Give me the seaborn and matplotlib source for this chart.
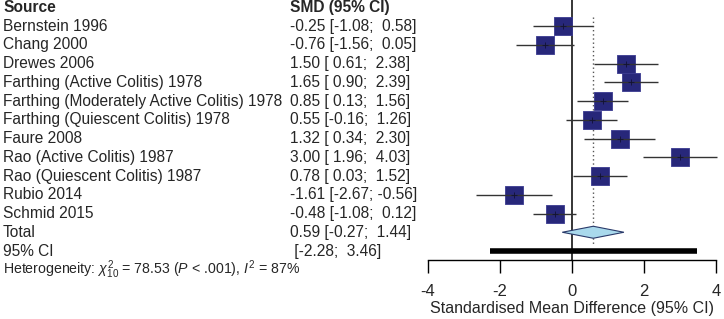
import numpy as np
import pandas as pd
import seaborn as sns
import matplotlib.pyplot as plt
import matplotlib.transforms as mtransforms

sources = ["Bernstein 1996", "Chang 2000", "Drewes 2006", "Farthing (Active Colitis) 1978",
           "Farthing (Moderately Active Colitis) 1978", "Farthing (Quiescent Colitis) 1978",
           "Faure 2008", "Rao (Active Colitis) 1987", "Rao (Quiescent Colitis) 1987",
           "Rubio 2014", "Schmid 2015"]
smd = [-0.25, -0.76, 1.50, 1.65, 0.85, 0.55, 1.32, 3.00, 0.78, -1.61, -0.48]
lower = [-1.08, -1.56, 0.61, 0.90, 0.13, -0.16, 0.34, 1.96, 0.03, -2.67, -1.08]
upper = [0.58, 0.05, 2.38, 2.39, 1.56, 1.26, 2.30, 4.03, 1.52, -0.56, 0.12]
total = [0.59, -0.27, 1.44]
pred_int = [-2.28, 3.46]
xticks = [-4, -2, 0, 2, 4]

sns.set_theme(style="white")
plt.rcParams["font.family"] = ["Liberation Sans", "DejaVu Sans"]
plt.rcParams["mathtext.fontset"] = "custom"
plt.rcParams["mathtext.rm"] = "Liberation Sans"
plt.rcParams["mathtext.it"] = "Liberation Sans:italic"

df = pd.DataFrame({"source": sources, "smd": smd, "lower": lower, "upper": upper})
df["row"] = np.arange(1, len(df) + 1)

fig = plt.figure(figsize=(7.24, 3.19), dpi=100)
ax = fig.add_axes([426 / 724, 59 / 319, 292 / 724, 1 - 59 / 319])

# reference lines
ax.plot([0, 0], [-0.55, 13.48], color="black", lw=1.1, zorder=1)
ax.plot([total[0], total[0]], [0.5, 12.7], color="#555555", lw=1, ls=(0, (1, 2)), zorder=1)

# study CIs and squares
ax.hlines(df["row"], df["lower"], df["upper"], color="#333333", lw=1, zorder=3)
sns.scatterplot(data=df, x="smd", y="row", marker="s", s=150, color="#27277A",
                edgecolor="#3a3a90", linewidth=0.6, ax=ax, zorder=2, legend=False)
ax.scatter(df["smd"], df["row"], marker="+", s=25, color="#111133", lw=0.6, zorder=4)

# summary diamond
yt = len(sources) + 1
ax.fill([total[1], total[0], total[2], total[0]], [yt, yt - 0.32, yt, yt + 0.32],
        facecolor="#A9D9EC", edgecolor="#2a3a6a", lw=0.8, zorder=3)
# prediction interval
ax.hlines(yt + 1, pred_int[0], pred_int[1], color="black", lw=4, zorder=3)

ax.set_xlim(-4.05, 4.05)
ax.set_ylim(13.48, -0.39)
ax.set_yticks([])
ax.set_ylabel("")
ax.set_xticks(xticks)
ax.set_xticklabels([str(t) for t in xticks], fontsize=12)
ax.tick_params(axis="x", direction="out", length=9, width=1, color="black", pad=8, bottom=True)
for s in ["top", "right", "left"]:
    ax.spines[s].set_visible(False)
ax.spines["bottom"].set_bounds(-4, 4)
ax.spines["bottom"].set_color("black")
ax.spines["bottom"].set_linewidth(1)
ax.set_xlabel("Standardised Mean Difference (95% CI)", fontsize=11.5, labelpad=2)
ax.patch.set_alpha(0)

# text columns
tr = mtransforms.blended_transform_factory(fig.transFigure, ax.transData)
x_src = 3 / 724
x_smd = 290 / 724
fs = 11.2
fig.text(x_src, 0, "Source", transform=tr, fontsize=fs, fontweight="bold", va="center")
fig.text(x_smd, 0, "SMD (95% CI)", transform=tr, fontsize=fs, fontweight="bold", va="center")
for _, r in df.iterrows():
    fig.text(x_src, r["row"], r["source"], transform=tr, fontsize=fs, va="center")
    txt = f"{r['smd']:.2f} [{r['lower']:5.2f}; {r['upper']:5.2f}]"
    fig.text(x_smd, r["row"], txt, transform=tr, fontsize=fs, va="center")
fig.text(x_src, yt, "Total", transform=tr, fontsize=fs, va="center")
fig.text(x_smd, yt, f"{total[0]:.2f} [{total[1]:5.2f}; {total[2]:5.2f}]", transform=tr,
         fontsize=fs, va="center")
fig.text(x_src, yt + 1, "95% CI", transform=tr, fontsize=fs, va="center")
fig.text(x_smd, yt + 1, f" [{pred_int[0]:5.2f}; {pred_int[1]:5.2f}]", transform=tr,
         fontsize=fs, va="center")
fig.text(x_src, yt + 2, r"Heterogeneity: $\chi^2_{10}$ = 78.53 ($P$ < .001), $I^2$ = 87%",
         transform=tr, fontsize=10.2, va="center")

fig.savefig("out.png", dpi=100)
